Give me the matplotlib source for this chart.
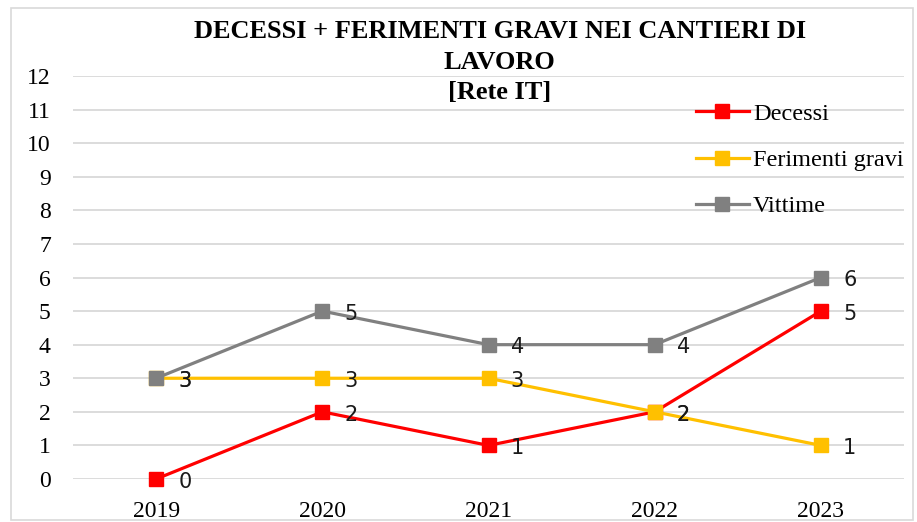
import matplotlib.pyplot as plt
from matplotlib.patches import Rectangle

anni = ["2019", "2020", "2021", "2022", "2023"]
decessi = [0, 2, 1, 2, 5]
ferimenti_gravi = [3, 3, 3, 2, 1]
vittime = [3, 5, 4, 4, 6]

serie = [
    ("Decessi", decessi, "#FF0000"),
    ("Ferimenti gravi", ferimenti_gravi, "#FFC000"),
    ("Vittime", vittime, "#808080"),
]

fig = plt.figure(figsize=(9.17, 5.22), dpi=100)
ax = fig.add_axes([73 / 917, 43 / 522, (904 - 73) / 917, (479 - 76) / 522])

# bordo esterno del grafico
fig.patches.append(Rectangle((11 / 917, 2 / 522), 902 / 917, 512 / 522,
                             transform=fig.transFigure, fill=False,
                             edgecolor="#D9D9D9", linewidth=1.2))

x = list(range(len(anni)))
for nome, valori, colore in serie:
    ax.plot(x, valori, color=colore, linewidth=2.3, marker="s", markersize=10,
            label=nome, zorder=3, clip_on=False)
    for xi, v in zip(x, valori):
        ax.annotate(str(v), (xi, v), xytext=(16, -2), textcoords="offset points",
                    ha="left", va="center", fontsize=15, family="DejaVu Sans",
                    color="#1a1a1a", zorder=4)

ax.set_xlim(-0.5, 4.5)
ax.set_ylim(0, 12)
ax.set_yticks(range(0, 13))
ax.set_xticks(x)
ax.set_xticklabels(anni)
ax.grid(axis="y", color="#D9D9D9", linewidth=1.3)
ax.set_axisbelow(True)
for s in ax.spines.values():
    s.set_visible(False)
ax.tick_params(length=0, labelsize=17)
for lab in ax.get_xticklabels() + ax.get_yticklabels():
    lab.set_family("Liberation Serif")
ax.tick_params(axis="x", pad=16)
ax.tick_params(axis="y", pad=16)

fig.text(0.545, 1 - 20 / 522, "DECESSI + FERIMENTI GRAVI NEI CANTIERI DI\nLAVORO\n[Rete IT]",
         ha="center", va="top", fontsize=19, fontweight="bold",
         family="Liberation Serif", linespacing=1.42)

leg = ax.legend(loc="upper left", bbox_to_anchor=(686 / 917, 1 - 93 / 522),
                bbox_transform=fig.transFigure, frameon=False,
                prop={"family": "Liberation Serif", "size": 17.5},
                handlelength=2.2, handletextpad=0.15, labelspacing=1.0,
                borderaxespad=0)

fig.savefig("out.png", dpi=100)
